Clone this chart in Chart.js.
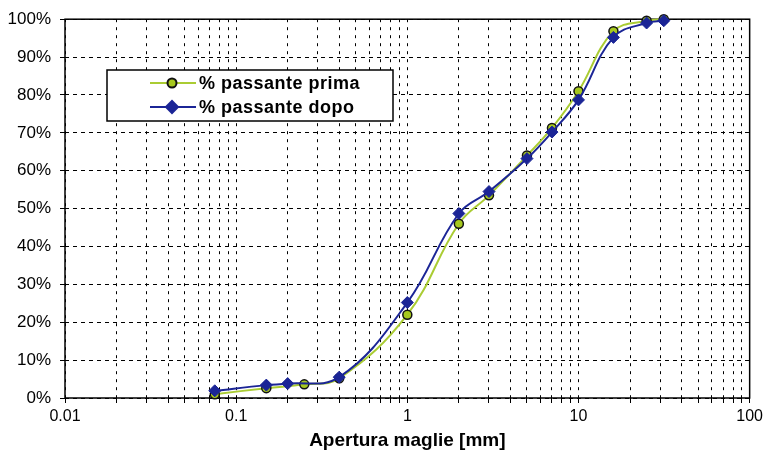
<!DOCTYPE html>
<html>
<head>
<meta charset="utf-8">
<script src="https://cdn.jsdelivr.net/npm/chart.js@4.4.1/dist/chart.umd.min.js"></script>
<style>
  body { margin: 0; background: #fff; }
  #wrap { width: 767px; height: 455px; }
</style>
</head>
<body>
<div id="wrap"><canvas id="chart"></canvas></div>
<script>
// sieve sizes [mm] and % passing
const sizesPrima = [0.075, 0.15, 0.25, 0.4, 1, 2, 3, 5, 7, 10, 16, 25, 31.5];
const passPrima  = [1.0, 2.6, 3.6, 5.2, 22.0, 46.0, 53.5, 64.0, 71.3, 81.0, 96.8, 99.6, 100];

const sizesDopo = [0.075, 0.15, 0.2, 0.4, 1, 2, 3, 5, 7, 10, 16, 25, 31.5];
const passDopo  = [1.9, 3.4, 3.8, 5.5, 25.2, 48.7, 54.5, 63.2, 70.2, 78.7, 95.2, 99.0, 99.6];

const FONT = "'Liberation Sans', Arial, sans-serif";

function toPoints(xs, ys) {
  return xs.map((x, i) => ({ x: x, y: ys[i] }));
}

function isPow10(v) {
  const l = Math.log10(v);
  return Math.abs(l - Math.round(l)) < 1e-9;
}

// plot frame, drawn under the data
const framePlugin = {
  id: 'frame',
  beforeDatasetsDraw(chart) {
    const a = chart.chartArea;
    const ctx = chart.ctx;
    ctx.save();
    ctx.strokeStyle = '#000';
    ctx.lineWidth = 1.5;
    ctx.strokeRect(a.left, a.top, a.right - a.left, a.bottom - a.top);
    ctx.restore();
  }
};

// boxed legend inside the plot
const boxLegend = {
  id: 'boxLegend',
  afterDraw(chart) {
    const ctx = chart.ctx;
    const box = { x: 107, y: 70, w: 286, h: 51 };
    ctx.save();
    ctx.fillStyle = '#fff';
    ctx.fillRect(box.x, box.y, box.w, box.h);
    ctx.strokeStyle = '#000';
    ctx.lineWidth = 1.5;
    ctx.strokeRect(box.x, box.y, box.w, box.h);
    chart.data.datasets.forEach((ds, i) => {
      const y = 83 + i * 24;
      ctx.strokeStyle = ds.borderColor;
      ctx.lineWidth = 2;
      ctx.beginPath();
      ctx.moveTo(150, y);
      ctx.lineTo(196, y);
      ctx.stroke();
      ctx.fillStyle = ds.pointBackgroundColor;
      ctx.strokeStyle = ds.pointBorderColor;
      Chart.helpers.drawPoint(ctx, {
        pointStyle: ds.pointStyle,
        radius: ds.pointRadius,
        borderWidth: ds.pointBorderWidth,
        rotation: 0
      }, 172, y);
      ctx.fillStyle = '#000';
      ctx.font = 'bold 18px ' + FONT;
      ctx.letterSpacing = '0.5px';
      ctx.textBaseline = 'middle';
      ctx.fillText(ds.label, 199, y + 1);
    });
    ctx.restore();
  }
};

const chart = new Chart(document.getElementById('chart').getContext('2d'), {
  type: 'line',
  data: {
    datasets: [
      {
        label: '% passante prima',
        data: toPoints(sizesPrima, passPrima),
        borderColor: '#aacc33',
        borderWidth: 2,
        pointStyle: 'circle',
        pointRadius: 4.5,
        pointBackgroundColor: '#a6c81e',
        pointBorderColor: '#111',
        pointBorderWidth: 1.5,
        tension: 0.4,
        clip: false,
        order: 2
      },
      {
        label: '% passante dopo',
        data: toPoints(sizesDopo, passDopo),
        borderColor: '#1b2596',
        borderWidth: 2,
        pointStyle: 'rectRot',
        pointRadius: 6,
        pointBackgroundColor: '#1b2596',
        pointBorderColor: '#1b2596',
        pointBorderWidth: 1,
        tension: 0.4,
        clip: false,
        order: 1
      }
    ]
  },
  options: {
    responsive: true,
    maintainAspectRatio: false,
    animation: false,
    layout: { padding: { left: 0, top: 18, right: 16, bottom: 0 } },
    plugins: { legend: { display: false }, tooltip: { enabled: false } },
    scales: {
      x: {
        type: 'logarithmic',
        min: 0.01,
        max: 100,
        afterBuildTicks(scale) {
          // keep 1..9 per decade only
          scale.ticks = scale.ticks.filter(t => {
            const m = t.value / Math.pow(10, Math.floor(Math.log10(t.value) + 1e-9));
            return Math.abs(m - Math.round(m)) < 1e-6;
          });
        },
        afterFit(scale) { scale.height = 57; },
        ticks: {
          autoSkip: false,
          maxRotation: 0,
          minRotation: 0,
          color: '#000',
          padding: 4,
          font: { family: FONT, size: 16 },
          callback: v => isPow10(v) ? String(v) : ''
        },
        grid: { color: '#000', lineWidth: 1, tickLength: 5, tickColor: '#000' },
        border: { display: false, dash: [3, 5] },
        title: {
          display: true,
          text: 'Apertura maglie [mm]',
          color: '#000',
          font: { family: FONT, size: 19, weight: 'bold' },
          padding: { top: 2, bottom: 3 }
        }
      },
      y: {
        min: 0,
        max: 100,
        afterFit(scale) { scale.width = 65; },
        ticks: {
          stepSize: 10,
          color: '#000',
          padding: 9,
          font: { family: FONT, size: 17 },
          callback: v => v + '%'
        },
        grid: { color: '#000', lineWidth: 1, tickLength: 5, tickColor: '#000' },
        border: { display: false, dash: [4, 4] }
      }
    }
  },
  plugins: [framePlugin, boxLegend]
});
</script>
</body>
</html>
